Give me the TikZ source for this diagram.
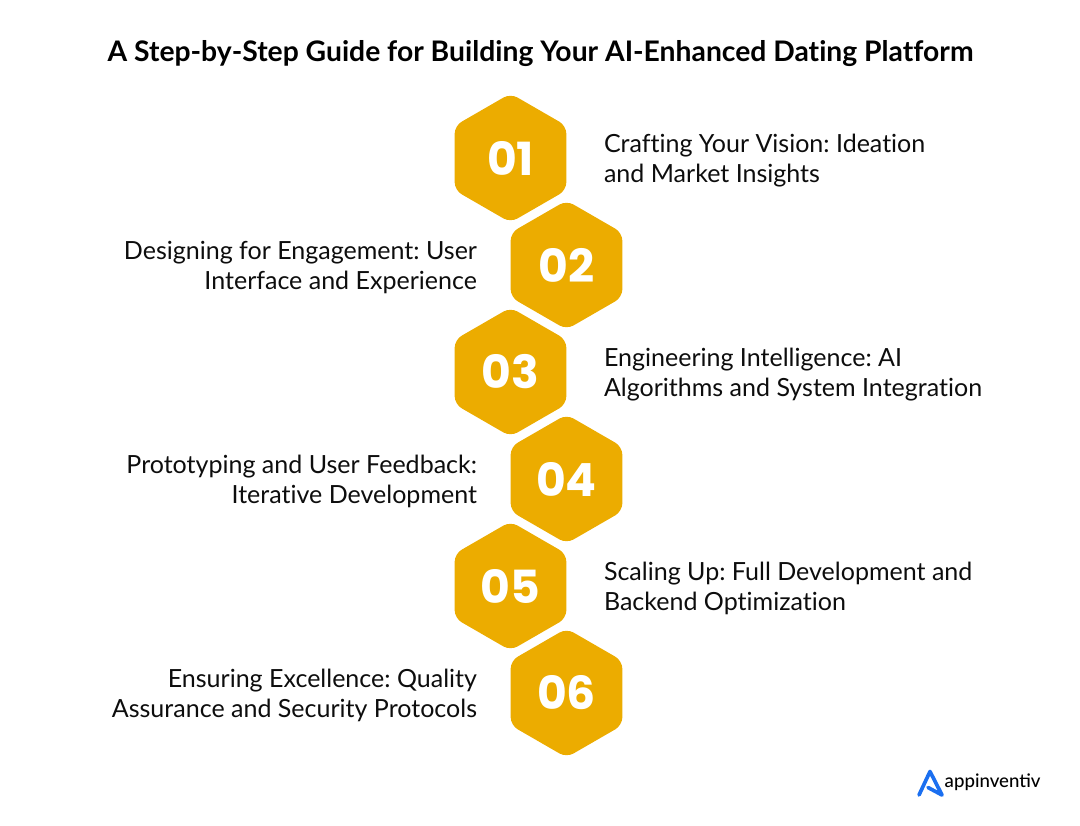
\documentclass[tikz,border=0pt]{standalone}
\usepackage{fontspec}
\setmainfont[Ligatures=NoCommon]{Lato}
\newfontfamily\numfont{Poppins}
\newfontfamily\logofont{Lato Medium}
\usetikzlibrary{shapes.geometric}
\definecolor{hexgold}{HTML}{ECAC00}
\definecolor{logoblue}{HTML}{1B6FF0}
\tikzset{
hexstep/.style={regular polygon,regular polygon sides=6,regular polygon rotate=30,minimum size=1.29cm,inner sep=0pt,outer sep=0pt,rounded corners=0.8mm,fill=hexgold,text=white,font=\numfont\bfseries\fontsize{13pt}{15pt}\selectfont},
steptext/.style={inner sep=0pt,outer sep=0pt,text=black!95,font=\fontsize{7.12pt}{8.53pt}\selectfont},
steptextr/.style={steptext,anchor=west,align=left},
steptextl/.style={steptext,anchor=east,align=right}
}
\begin{document}
\frenchspacing
\begin{tikzpicture}
\useasboundingbox (0.,0.) rectangle (10.8,8.25);
\node[inner sep=0pt,font=\bfseries\fontsize{8.05pt}{9pt}\selectfont] (title) at (5.405,7.71) {A Step-by-Step Guide for Building Your AI-Enhanced Dating Platform};
\node[hexstep] (hexa) at (5.105,6.67) {01};
\node[hexstep] (hexb) at (5.665,5.60) {02};
\node[hexstep] (hexc) at (5.105,4.53) {03};
\node[hexstep] (hexd) at (5.665,3.46) {04};
\node[hexstep] (hexe) at (5.105,2.39) {05};
\node[hexstep] (hexf) at (5.665,1.32) {06};
\node[steptextr] (texta) at (6.04,6.645) {Crafting Your Vision: Ideation\\and Market Insights};
\node[steptextl] (textb) at (4.77,5.575) {Designing for Engagement: User\\Interface and Experience};
\node[steptextr] (textc) at (6.04,4.505) {Engineering Intelligence: AI\\Algorithms and System Integration};
\node[steptextl] (textd) at (4.77,3.435) {Prototyping and User Feedback:\\Iterative Development};
\node[steptextr] (texte) at (6.04,2.365) {Scaling Up: Full Development and\\Backend Optimization};
\node[steptextl] (textf) at (4.77,1.295) {Ensuring Excellence: Quality\\Assurance and Security Protocols};
\draw [line width=1.05pt,color=logoblue,line cap=round,line join=round] (9.19,0.30)-- (9.30,0.535)-- (9.42,0.30)-- (9.28,0.375);
\node[inner sep=0pt,anchor=west,font=\logofont\fontsize{5.3pt}{6pt}\selectfont] (logotext) at (9.44,0.425) {appinventiv};
\end{tikzpicture}
\end{document}
